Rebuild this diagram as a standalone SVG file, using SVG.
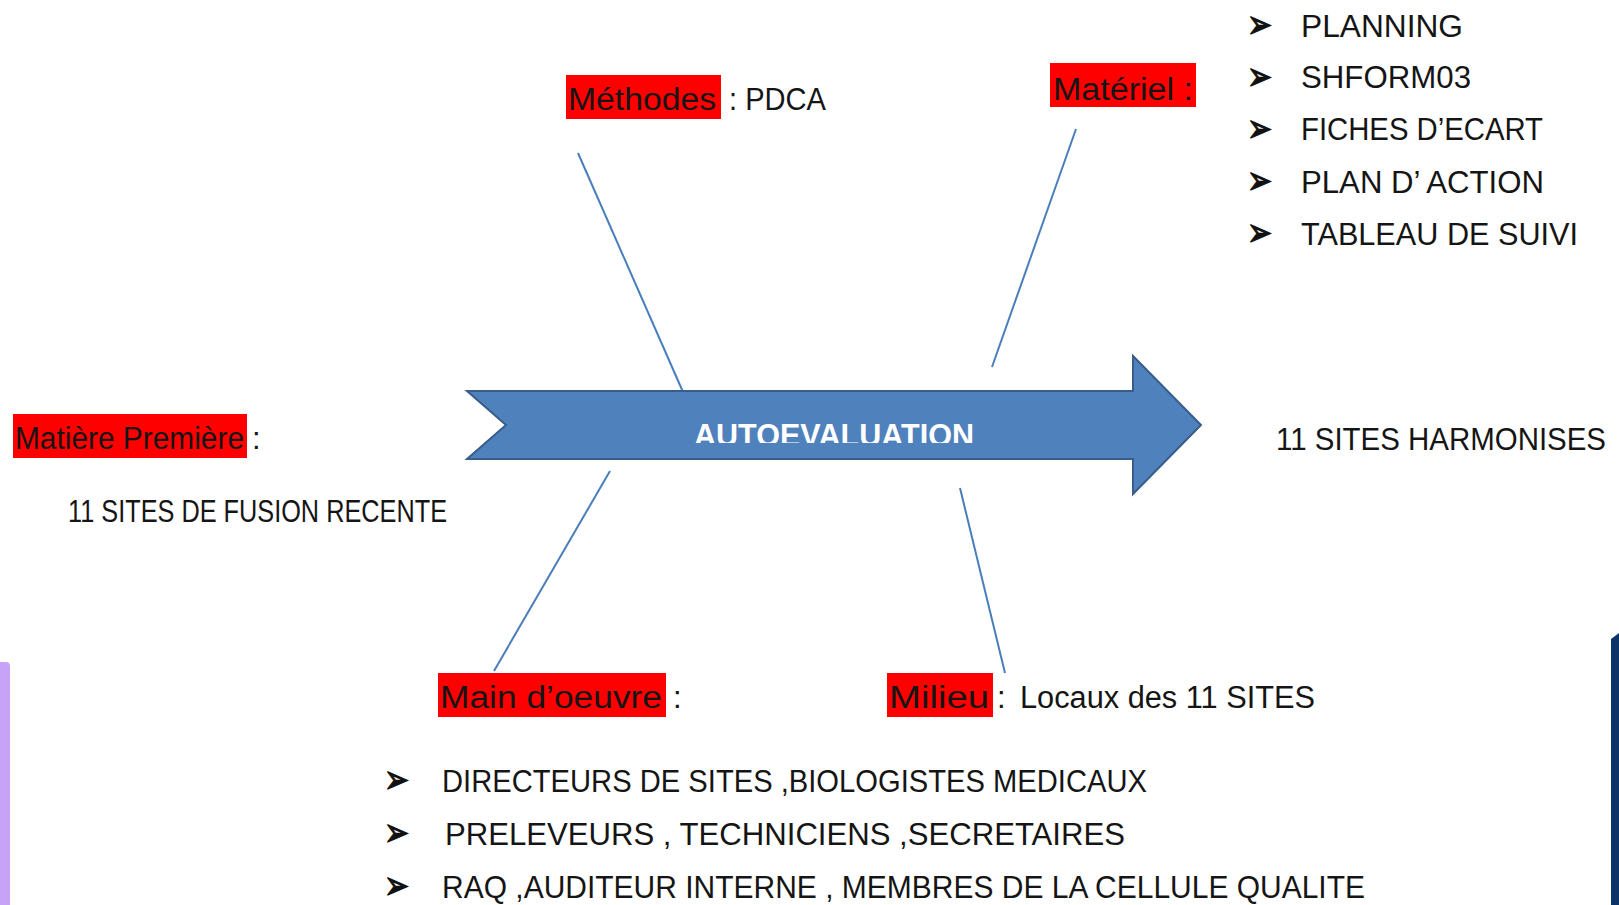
<svg xmlns="http://www.w3.org/2000/svg" width="1619" height="905" viewBox="0 0 1619 905">
<style>
  text { font-family: "Liberation Sans", Arial, sans-serif; font-size: 31px; fill: #151515; }
  .hl { fill: #FF0000; }
  .bul { font-family: "DejaVu Sans", sans-serif; font-size: 40px; fill: #111; stroke: #111; stroke-width: 1.2; }
  .bone { stroke: #4A7EBB; stroke-width: 2; fill: none; }
  .main { font-weight: bold; fill: #FFFFFF; font-size: 32px; }
</style>
<defs>
  <clipPath id="txtclip"><rect x="600" y="395" width="450" height="48"/></clipPath>
</defs>
<rect width="1619" height="905" fill="#FFFFFF"/>

<!-- side bars -->
<path d="M0,662 H6 Q10,662 10,666 V905 H0 Z" fill="#C8A2F7"/>
<polygon points="1611,639 1619,633 1619,905 1611,905" fill="#0C3466"/>

<g id="connectors">
  <line class="bone" x1="578" y1="153" x2="683" y2="392"/>
  <line class="bone" x1="1076" y1="129" x2="992" y2="367"/>
  <line class="bone" x1="610" y1="471" x2="494" y2="671"/>
  <line class="bone" x1="960" y1="488" x2="1005" y2="673"/>
</g>

<g id="autoevaluation">
  <polygon points="467,391 1133,391 1133,356 1201,425 1133,494 1133,459 467,459 506,425" fill="#4F81BD" stroke="#385D8A" stroke-width="2"/>
  <g clip-path="url(#txtclip)">
    <text class="main" x="694" y="446" textLength="280" lengthAdjust="spacingAndGlyphs">AUTOEVALUATION</text>
  </g>
</g>

<g id="methodes">
  <rect class="hl" x="566" y="75" width="155" height="44"/>
  <text x="568" y="110" textLength="148" lengthAdjust="spacingAndGlyphs">Méthodes</text>
  <text x="729" y="110" textLength="97" lengthAdjust="spacingAndGlyphs">: PDCA</text>
</g>

<g id="materiel">
  <rect class="hl" x="1050" y="63" width="146" height="44"/>
  <text x="1053" y="100" textLength="140" lengthAdjust="spacingAndGlyphs">Matériel :</text>
  <g id="materiel-list">
    <text class="bul" x="1247" y="38" textLength="25" lengthAdjust="spacingAndGlyphs">➢</text>
    <text x="1301" y="37" textLength="162" lengthAdjust="spacingAndGlyphs">PLANNING</text>
    <text class="bul" x="1247" y="90" textLength="25" lengthAdjust="spacingAndGlyphs">➢</text>
    <text x="1301" y="88" textLength="170" lengthAdjust="spacingAndGlyphs">SHFORM03</text>
    <text class="bul" x="1247" y="142" textLength="25" lengthAdjust="spacingAndGlyphs">➢</text>
    <text x="1301" y="140" textLength="242" lengthAdjust="spacingAndGlyphs">FICHES D’ECART</text>
    <text class="bul" x="1247" y="194" textLength="25" lengthAdjust="spacingAndGlyphs">➢</text>
    <text x="1301" y="193" textLength="243" lengthAdjust="spacingAndGlyphs">PLAN D’ ACTION</text>
    <text class="bul" x="1247" y="246" textLength="25" lengthAdjust="spacingAndGlyphs">➢</text>
    <text x="1301" y="245" textLength="277" lengthAdjust="spacingAndGlyphs">TABLEAU DE SUIVI</text>
  </g>
</g>

<g id="matiere">
  <rect class="hl" x="13" y="414" width="234" height="44"/>
  <text x="15" y="449" textLength="229" lengthAdjust="spacingAndGlyphs">Matière Première</text>
  <text x="252" y="449">:</text>
  <text x="68" y="522" textLength="379" lengthAdjust="spacingAndGlyphs">11 SITES DE FUSION RECENTE</text>
</g>

<g id="resultat">
  <text x="1276" y="450" textLength="330" lengthAdjust="spacingAndGlyphs">11 SITES HARMONISES</text>
</g>

<g id="main-oeuvre">
  <rect class="hl" x="438" y="673" width="228" height="44"/>
  <text x="440" y="708" textLength="222" lengthAdjust="spacingAndGlyphs">Main d’oeuvre</text>
  <text x="673" y="708">:</text>
  <g id="main-oeuvre-list">
    <text class="bul" x="384" y="793" textLength="25" lengthAdjust="spacingAndGlyphs">➢</text>
    <text x="442" y="792" textLength="705" lengthAdjust="spacingAndGlyphs">DIRECTEURS DE SITES ,BIOLOGISTES MEDICAUX</text>
    <text class="bul" x="384" y="846" textLength="25" lengthAdjust="spacingAndGlyphs">➢</text>
    <text x="445" y="845" textLength="680" lengthAdjust="spacingAndGlyphs">PRELEVEURS , TECHNICIENS ,SECRETAIRES</text>
    <text class="bul" x="384" y="899" textLength="25" lengthAdjust="spacingAndGlyphs">➢</text>
    <text x="442" y="898" textLength="923" lengthAdjust="spacingAndGlyphs">RAQ ,AUDITEUR INTERNE , MEMBRES DE LA CELLULE QUALITE</text>
  </g>
</g>

<g id="milieu">
  <rect class="hl" x="887" y="673" width="106" height="44"/>
  <text x="889" y="708" textLength="100" lengthAdjust="spacingAndGlyphs">Milieu</text>
  <text x="997" y="708">:</text>
  <text x="1020" y="708" textLength="295" lengthAdjust="spacingAndGlyphs">Locaux des 11 SITES</text>
</g>
</svg>
